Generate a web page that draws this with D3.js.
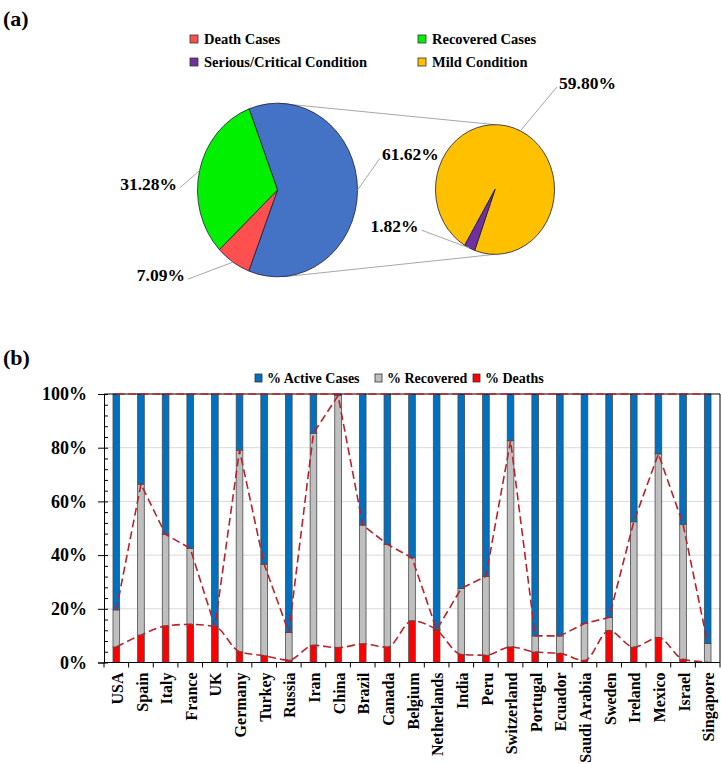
<!DOCTYPE html>
<html>
<head>
<meta charset="utf-8">
<script src="https://cdn.jsdelivr.net/npm/d3@7"></script>
<style>
  body { margin: 0; background: #fff; }
  svg { display: block; }
  text { font-family: "Liberation Serif", "Times New Roman", serif; font-weight: bold; fill: #000; }
</style>
</head>
<body>
<svg id="chart" width="721" height="764"></svg>
<script>
// ---- data (a): pie of pie ----
const caseNames = ['Active Cases', 'Death Cases', 'Recovered Cases']
const caseShares = [61.62, 7.09, 31.28]
const conditionNames = ['Mild Condition', 'Serious/Critical Condition']
const conditionShares = [59.80, 1.82]

// ---- data (b): share of cases per country (%) ----
const countries = ['USA', 'Spain', 'Italy', 'France', 'UK', 'Germany', 'Turkey', 'Russia', 'Iran', 'China',
  'Brazil', 'Canada', 'Belgium', 'Netherlands', 'India', 'Peru', 'Switzerland', 'Portugal', 'Ecuador',
  'Saudi Arabia', 'Sweden', 'Ireland', 'Mexico', 'Israel', 'Singapore']
const deathPct = [5.8, 10.2, 13.6, 14.2, 13.4, 4.0, 2.5, 0.9, 6.4, 5.5, 6.9, 5.7, 15.5, 12.1, 3.0, 2.7, 5.8, 3.9, 3.4, 0.7, 11.9, 5.7, 9.3, 1.2, 0.1]
const recoveredPct = [13.8, 56.2, 34.1, 28.3, 0, 75.1, 34.1, 10.3, 79.0, 93.9, 44.3, 38.3, 23.5, 0.1, 24.6, 29.4, 76.8, 6.0, 6.5, 13.8, 4.9, 46.7, 68.4, 50.3, 7.0]

const colors = {
  'Active Cases': '#4472C4',
  'Death Cases': '#FF5050',
  'Recovered Cases': '#00F000',
  'Mild Condition': '#FFC000',
  'Serious/Critical Condition': '#7030A0'
}

const svg = d3.select('#chart')
const deg = Math.PI / 180

// ================= (a) =================
svg.append('text').attr('x', 3).attr('y', 26).attr('font-size', 22).text('(a)')

// legend
const legendA = ['Death Cases', 'Recovered Cases', 'Serious/Critical Condition', 'Mild Condition']
const legA = svg.append('g').selectAll('g').data(legendA).enter().append('g')
  .attr('transform', (d, i) => 'translate(' + [190, 418][i % 2] + ',' + [39, 62][Math.floor(i / 2)] + ')')
legA.append('rect').attr('x', 0).attr('y', -4).attr('width', 8).attr('height', 8)
  .attr('fill', d => colors[d]).attr('stroke', '#333').attr('stroke-width', 0.8)
legA.append('text').attr('x', 14).attr('y', 5).attr('font-size', 14.5).text(d => d)

// main pie and second pie geometry
const mainPie = {cx: 277.5, cy: 190, r: 80, sy: 1.085}
const subPie = {cx: 495, cy: 189.5, r: 59.5, sy: 1.09}

const mainStart = -20.8 * deg
const pieMain = d3.pie().sort(null).value(d => d).startAngle(mainStart).endAngle(mainStart + 2 * Math.PI)
const subStart = 210.6 * deg
const pieSub = d3.pie().sort(null).value(d => d).startAngle(subStart).endAngle(subStart + 2 * Math.PI)

function edgePoint(p, a) {
  return [p.cx + p.r * Math.sin(a), p.cy - p.r * p.sy * Math.cos(a)]
}

// connector lines between the two pies
const conn = svg.append('g').attr('stroke', '#a6a6a6').attr('stroke-width', 1)
conn.append('line')
  .attr('x1', mainPie.cx).attr('y1', mainPie.cy - mainPie.r * mainPie.sy)
  .attr('x2', subPie.cx).attr('y2', subPie.cy - subPie.r * subPie.sy)
conn.append('line')
  .attr('x1', mainPie.cx + 6).attr('y1', mainPie.cy + mainPie.r * mainPie.sy)
  .attr('x2', subPie.cx).attr('y2', subPie.cy + subPie.r * subPie.sy)

function drawPie(p, slices, names) {
  const g = svg.append('g').attr('transform', 'translate(' + p.cx + ',' + p.cy + ') scale(1,' + p.sy + ')')
  const arc = d3.arc().innerRadius(0).outerRadius(p.r)
  g.selectAll('path').data(slices).enter().append('path')
    .attr('d', arc)
    .attr('fill', (d, i) => colors[names[i]])
    .attr('stroke', '#1c1c3a')
    .attr('stroke-width', 0.8)
    .attr('vector-effect', 'non-scaling-stroke')
}
const mainSlices = pieMain(caseShares)
const subSlices = pieSub(conditionShares)
drawPie(mainPie, mainSlices, caseNames)
drawPie(subPie, subSlices, conditionNames)

// data labels with leader lines
const labelOffsets = {
  'Active Cases': {dx: 22.5, dy: -32, anchor: 'start'},
  'Death Cases': {dx: -45, dy: 17, anchor: 'end'},
  'Recovered Cases': {dx: -19.5, dy: 17, anchor: 'end'},
  'Mild Condition': {dx: 36.6, dy: -44, anchor: 'start'},
  'Serious/Critical Condition': {dx: -48, dy: -18, anchor: 'end'}
}
function drawLabels(p, slices, names, values) {
  slices.forEach((s, i) => {
    const mid = (s.startAngle + s.endAngle) / 2
    const [x0, y0] = edgePoint(p, mid)
    const o = labelOffsets[names[i]]
    const x1 = x0 + o.dx, y1 = y0 + o.dy
    svg.append('line').attr('x1', x0).attr('y1', y0).attr('x2', x1).attr('y2', y1)
      .attr('stroke', '#a6a6a6').attr('stroke-width', 1)
    svg.append('text')
      .attr('x', o.anchor === 'start' ? x1 + 2 : x1 - 3)
      .attr('y', y1 + 2)
      .attr('text-anchor', o.anchor)
      .attr('font-size', 17.5)
      .text(values[i].toFixed(2) + '%')
  })
}
drawLabels(mainPie, mainSlices, caseNames, caseShares)
drawLabels(subPie, subSlices, conditionNames, conditionShares)

// ================= (b) =================
svg.append('text').attr('x', 3).attr('y', 365).attr('font-size', 22).text('(b)')

const plot = {left: 104, right: 720, top: 394, bottom: 662.5}
const y = d3.scaleLinear().domain([0, 100]).range([plot.bottom, plot.top])
const x = d3.scaleBand().domain(countries).range([plot.left, plot.right])
const barW = x.step() * 0.27

const rows = countries.map((c, i) => ({
  country: c,
  deaths: deathPct[i],
  recovered: recoveredPct[i],
  active: 100 - deathPct[i] - recoveredPct[i]
}))
const keys = ['deaths', 'recovered', 'active']
const barColors = {deaths: '#FF0000', recovered: '#BFBFBF', active: '#0070C0'}
const stacked = d3.stack().keys(keys)(rows)

// legend (b)
const legendB = [['active', '% Active Cases'], ['recovered', '% Recovered'], ['deaths', '% Deaths']]
const legB = svg.append('g').selectAll('g').data(legendB).enter().append('g')
  .attr('transform', (d, i) => 'translate(' + [255, 375, 473][i] + ',378)')
legB.append('rect').attr('x', 0).attr('y', -4).attr('width', 7).attr('height', 8)
  .attr('fill', d => barColors[d[0]]).attr('stroke', '#333').attr('stroke-width', 0.8)
legB.append('text').attr('x', 12).attr('y', 5).attr('font-size', 14).text(d => d[1])

// gridlines
svg.append('g').selectAll('line').data([20, 40, 60, 80]).enter().append('line')
  .attr('x1', plot.left).attr('x2', plot.right)
  .attr('y1', d => y(d)).attr('y2', d => y(d))
  .attr('stroke', '#d9d9d9').attr('stroke-width', 1)

// bars
svg.append('g').selectAll('g').data(stacked).enter().append('g')
  .attr('fill', d => barColors[d.key])
  .selectAll('rect').data(d => d).enter().append('rect')
  .attr('x', d => x(d.data.country) + x.step() / 2 - barW / 2)
  .attr('width', barW)
  .attr('y', d => y(d[1]))
  .attr('height', d => y(d[0]) - y(d[1]))
  .attr('stroke', '#4a4a4a')
  .attr('stroke-width', 0.8)

// frame
svg.append('line').attr('x1', plot.left).attr('x2', plot.right).attr('y1', plot.top).attr('y2', plot.top)
  .attr('stroke', '#000').attr('stroke-width', 1)
svg.append('line').attr('x1', plot.right).attr('x2', plot.right).attr('y1', plot.top).attr('y2', plot.bottom)
  .attr('stroke', '#000').attr('stroke-width', 1)

// dashed trend lines over the stacks (deaths slightly smoothed, others straight)
const lineFor = key => d3.line()
  .x(d => x(d.data.country) + x.step() / 2)
  .y(d => y(d[1]))
  .curve(key === 'deaths' ? d3.curveMonotoneX : d3.curveLinear)
svg.append('g').selectAll('path').data(stacked).enter().append('path')
  .attr('d', d => lineFor(d.key)(d))
  .attr('fill', 'none')
  .attr('stroke', '#B8232B')
  .attr('stroke-width', 1.6)
  .attr('stroke-dasharray', '8,4')

// y axis
const yAxis = svg.append('g').attr('transform', 'translate(' + plot.left + ',0)')
  .call(d3.axisLeft(y).tickValues([0, 20, 40, 60, 80, 100]).tickFormat(d => d + '%').tickSize(6).tickPadding(11))
yAxis.selectAll('text').attr('font-size', 18).attr('fill', '#000').style('font-family', '"Liberation Serif", serif')
yAxis.select('.domain').attr('stroke', '#000')
svg.append('g').attr('transform', 'translate(' + plot.left + ',0)')
  .call(d3.axisRight(y).tickValues(d3.range(0, 101, 4)).tickSize(4).tickFormat(''))
  .select('.domain').remove()

// x axis
svg.append('line').attr('x1', plot.left).attr('x2', plot.right).attr('y1', plot.bottom).attr('y2', plot.bottom)
  .attr('stroke', '#000').attr('stroke-width', 1.2)
svg.append('g').selectAll('line').data(countries.concat(['end'])).enter().append('line')
  .attr('x1', (d, i) => plot.left + i * x.step()).attr('x2', (d, i) => plot.left + i * x.step())
  .attr('y1', plot.bottom).attr('y2', plot.bottom + 5)
  .attr('stroke', '#000').attr('stroke-width', 1)
svg.append('g').selectAll('text').data(countries).enter().append('text')
  .attr('transform', d => 'translate(' + (x(d) + x.step() / 2 + 1) + ',' + (plot.bottom + 10) + ') rotate(-90)')
  .attr('text-anchor', 'end')
  .attr('dy', '0.35em')
  .attr('font-size', 16)
  .text(d => d)
</script>
</body>
</html>
